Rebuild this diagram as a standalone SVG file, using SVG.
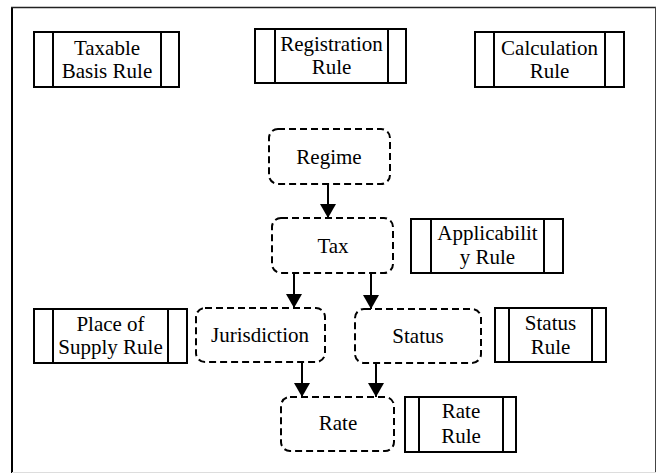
<svg xmlns="http://www.w3.org/2000/svg" width="657" height="473" viewBox="0 0 657 473">
<style>
text{font-family:"Liberation Serif","DejaVu Serif","Noto Serif",serif;font-size:21px;fill:#000;text-anchor:middle}
.rule{fill:#fff;stroke:#000;stroke-width:2}
.bar{stroke:#000;stroke-width:2}
.ent{fill:#fff;stroke:#000;stroke-width:2;stroke-dasharray:7 4}
.conn{stroke:#000;stroke-width:2;fill:none}
</style>
<defs>
<marker id="ah" markerWidth="8" markerHeight="8" refX="7" refY="4" orient="auto" markerUnits="strokeWidth">
<path d="M0,0 L7,4 L0,8 Z" fill="#000"/>
</marker>
</defs>
<rect x="0" y="0" width="657" height="473" fill="#fff"/>
<g id="frame">
<line x1="12" y1="7" x2="12" y2="473" stroke="#000" stroke-width="2"/>
<line x1="11" y1="7.5" x2="656" y2="7.5" stroke="#222" stroke-width="1.5"/>
<line x1="655.5" y1="7" x2="655.5" y2="473" stroke="#444" stroke-width="1"/>
<line x1="12" y1="472.5" x2="656" y2="472.5" stroke="#ddd" stroke-width="1"/>
</g>
<g id="connectors">
<line class="conn" x1="328" y1="184" x2="328" y2="218" marker-end="url(#ah)"/>
<line class="conn" x1="294" y1="273" x2="294" y2="308" marker-end="url(#ah)"/>
<line class="conn" x1="371" y1="273" x2="371" y2="309" marker-end="url(#ah)"/>
<line class="conn" x1="302" y1="362" x2="302" y2="397" marker-end="url(#ah)"/>
<line class="conn" x1="376" y1="363" x2="376" y2="397" marker-end="url(#ah)"/>
</g>
<g id="taxable-basis-rule">
<rect class="rule" x="34" y="32" width="145" height="55"/>
<line class="bar" x1="53" y1="32" x2="53" y2="87"/>
<line class="bar" x1="161" y1="32" x2="161" y2="87"/>
<text x="107" y="55">Taxable</text>
<text x="107" y="78">Basis Rule</text>
</g>
<g id="registration-rule">
<rect class="rule" x="255" y="29" width="151" height="54"/>
<line class="bar" x1="275" y1="29" x2="275" y2="83"/>
<line class="bar" x1="388" y1="29" x2="388" y2="83"/>
<text x="331.5" y="51">Registration</text>
<text x="331.5" y="74">Rule</text>
</g>
<g id="calculation-rule">
<rect class="rule" x="475" y="32" width="149" height="55"/>
<line class="bar" x1="494" y1="32" x2="494" y2="87"/>
<line class="bar" x1="605" y1="32" x2="605" y2="87"/>
<text x="549.5" y="55">Calculation</text>
<text x="549.5" y="78">Rule</text>
</g>
<g id="regime">
<rect class="ent" x="269" y="129" width="121" height="55" rx="9"/>
<text x="329" y="164">Regime</text>
</g>
<g id="tax">
<rect class="ent" x="272" y="218" width="121" height="55" rx="9"/>
<text x="333" y="253">Tax</text>
</g>
<g id="applicability-rule">
<rect class="rule" x="411" y="219" width="152" height="54"/>
<line class="bar" x1="431" y1="219" x2="431" y2="273"/>
<line class="bar" x1="544" y1="219" x2="544" y2="273"/>
<text x="487.5" y="240">Applicabilit</text>
<text x="487.5" y="264">y Rule</text>
</g>
<g id="place-of-supply-rule">
<rect class="rule" x="34" y="309" width="153" height="54"/>
<line class="bar" x1="53" y1="309" x2="53" y2="363"/>
<line class="bar" x1="168" y1="309" x2="168" y2="363"/>
<text x="110.5" y="331">Place of</text>
<text x="110.5" y="354">Supply Rule</text>
</g>
<g id="jurisdiction">
<rect class="ent" x="196" y="308" width="129" height="54" rx="9"/>
<text x="260" y="342">Jurisdiction</text>
</g>
<g id="status">
<rect class="ent" x="355" y="309" width="126" height="54" rx="9"/>
<text x="418" y="343">Status</text>
</g>
<g id="status-rule">
<rect class="rule" x="495" y="308" width="111" height="54"/>
<line class="bar" x1="509" y1="308" x2="509" y2="362"/>
<line class="bar" x1="592" y1="308" x2="592" y2="362"/>
<text x="550.5" y="330">Status</text>
<text x="550.5" y="354">Rule</text>
</g>
<g id="rate">
<rect class="ent" x="281" y="397" width="113" height="54" rx="9"/>
<text x="338" y="430">Rate</text>
</g>
<g id="rate-rule">
<rect class="rule" x="405" y="397" width="111" height="55"/>
<line class="bar" x1="419" y1="397" x2="419" y2="452"/>
<line class="bar" x1="503" y1="397" x2="503" y2="452"/>
<text x="461" y="418">Rate</text>
<text x="461" y="443">Rule</text>
</g>
</svg>
